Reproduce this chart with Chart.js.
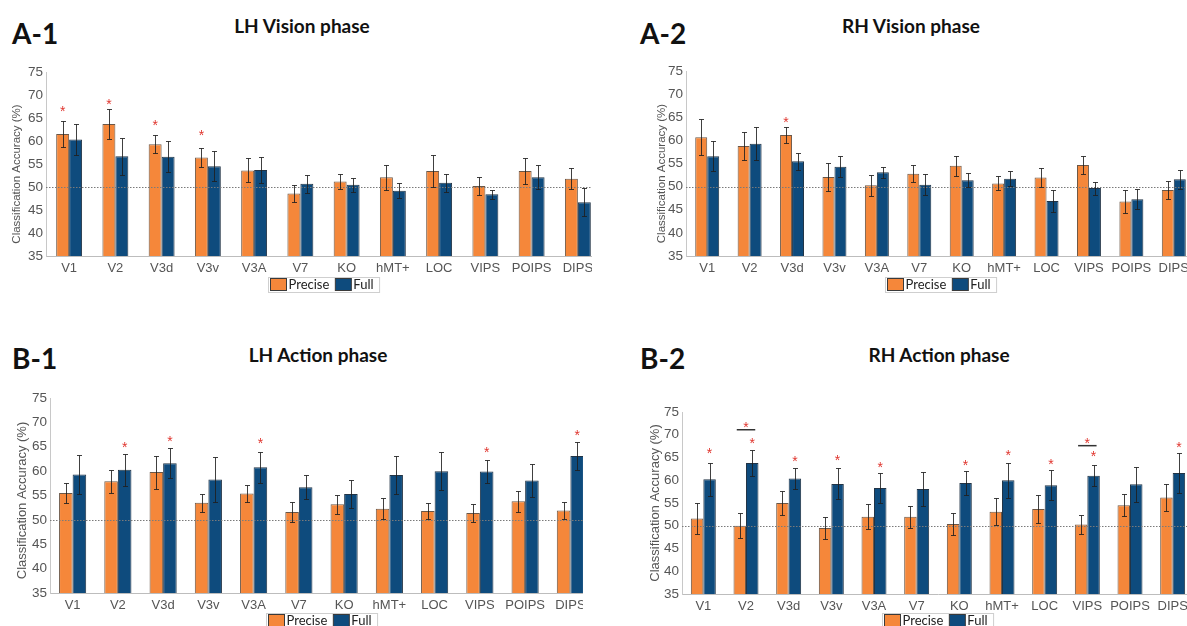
<!DOCTYPE html>
<html>
<head>
<meta charset="utf-8">
<script src="https://cdn.jsdelivr.net/npm/chart.js@4.4.1/dist/chart.umd.min.js"></script>
<style>
  html, body { margin: 0; padding: 0; background: #fff; }
  body { width: 1187px; height: 626px; overflow: hidden; position: relative; }
  .panel { position: absolute; overflow: hidden; }
  .panel canvas { position: absolute; left: 0; top: 0; }
  .tag { position: absolute; font-family: Lato, "Open Sans", sans-serif; font-weight: 700; font-size: 28px; line-height: 1; color: #111; }
  .ttl { position: absolute; font-family: Lato, "Open Sans", sans-serif; font-weight: 700; font-size: 19px; line-height: 1; color: #111; white-space: nowrap; transform: translateX(-50%); }
</style>
</head>
<body>
<div class="tag" style="left:12px;top:19px">A-1</div>
<div class="ttl" style="left:302px;top:16px">LH Vision phase</div>
<div class="tag" style="left:640px;top:19px">A-2</div>
<div class="ttl" style="left:911px;top:16px">RH Vision phase</div>
<div class="tag" style="left:12px;top:344px">B-1</div>
<div class="ttl" style="left:318px;top:345px">LH Action phase</div>
<div class="tag" style="left:640px;top:344px">B-2</div>
<div class="ttl" style="left:939px;top:345px">RH Action phase</div>

<div class="panel" id="wrapA1" style="left:0px;top:60px;width:592px;height:250px"><canvas id="chartA1" width="610" height="250"></canvas></div>
<div class="panel" id="wrapA2" style="left:600px;top:60px;width:587px;height:250px"><canvas id="chartA2" width="605" height="250"></canvas></div>
<div class="panel" id="wrapB1" style="left:0px;top:385px;width:583px;height:241px"><canvas id="chartB1" width="600" height="241"></canvas></div>
<div class="panel" id="wrapB2" style="left:600px;top:385px;width:587px;height:241px"><canvas id="chartB2" width="605" height="241"></canvas></div>

<script>
// Regions of interest along the x axis
const regions = ['V1', 'V2', 'V3d', 'V3v', 'V3A', 'V7', 'KO', 'hMT+', 'LOC', 'VIPS', 'POIPS', 'DIPS'];
const accuracyTicks = [35, 40, 45, 50, 55, 60, 65, 70, 75];
const chanceLevel = 50;
const seriesNames = ['Precise', 'Full'];
const seriesColors = ['#F5873A', '#0E4B7D'];
const yAxisTitle = 'Classification Accuracy (%)';

// LH, vision phase
const lhVisionPrecise    = [61.5, 63.7, 59.3, 56.4, 53.6, 48.6, 51.2, 52.1, 53.5, 50.2, 53.5, 51.8];
const lhVisionPreciseErr = [2.9, 3.3, 1.9, 2.1, 2.6, 1.9, 1.7, 2.7, 3.4, 1.9, 2.8, 2.3];
const lhVisionFull       = [60.3, 56.7, 56.6, 54.5, 53.7, 50.7, 50.5, 49.2, 50.9, 48.4, 52.1, 46.7];
const lhVisionFullErr    = [3.3, 4.0, 3.3, 3.3, 2.9, 2.0, 1.5, 1.6, 2.0, 1.0, 2.6, 3.0];
// significance markers: [region index, series index, height]
const lhVisionStars      = [[0, 0, 67.0], [1, 0, 68.5], [2, 0, 64.0], [3, 0, 61.8]];

// RH, vision phase
const rhVisionPrecise    = [60.7, 58.8, 61.2, 52.1, 50.3, 52.8, 54.5, 50.7, 52.0, 54.7, 46.8, 49.3];
const rhVisionPreciseErr = [3.9, 3.1, 1.8, 3.0, 2.3, 1.8, 2.2, 1.5, 2.1, 1.9, 2.5, 2.0];
const rhVisionFull       = [56.6, 59.3, 55.5, 54.3, 53.1, 50.4, 51.4, 51.7, 46.9, 49.7, 47.3, 51.6];
const rhVisionFullErr    = [3.3, 3.6, 1.8, 2.3, 1.2, 2.3, 1.5, 1.6, 2.4, 1.4, 2.1, 2.0];
const rhVisionStars      = [[2, 0, 64.6]];

// LH, action phase
const lhActionPrecise    = [55.5, 57.9, 59.8, 53.5, 55.4, 51.6, 53.2, 52.3, 51.8, 51.4, 53.8, 51.9];
const lhActionPreciseErr = [2.1, 2.3, 3.4, 1.9, 1.7, 2.1, 2.0, 2.2, 1.7, 1.9, 2.1, 1.8];
const lhActionFull       = [59.3, 60.3, 61.6, 58.3, 60.8, 56.7, 55.3, 59.2, 60.0, 59.9, 58.1, 63.1];
const lhActionFullErr    = [4.0, 3.3, 3.1, 4.7, 3.2, 2.5, 2.9, 3.9, 3.9, 2.3, 3.4, 2.9];
const lhActionStars      = [[1, 1, 65.5], [2, 1, 66.6], [4, 1, 66.3], [9, 1, 64.5], [11, 1, 67.9]];

// RH, action phase
const rhActionPrecise    = [51.6, 50.0, 55.0, 49.5, 52.0, 52.0, 50.4, 53.1, 53.7, 50.3, 54.5, 56.2];
const rhActionPreciseErr = [3.4, 2.7, 2.6, 2.5, 2.7, 2.4, 2.4, 2.9, 3.1, 2.1, 2.4, 2.9];
const rhActionFull       = [60.2, 63.8, 60.4, 59.2, 58.3, 58.1, 59.4, 60.0, 58.9, 61.0, 59.1, 61.6];
const rhActionFullErr    = [3.6, 2.9, 2.4, 3.4, 3.2, 3.8, 2.7, 3.8, 3.3, 2.3, 3.8, 4.3];
const rhActionStars      = [[0, 1, 66.5], [1, 1, 68.7], [2, 1, 64.8], [3, 1, 65.1], [4, 1, 63.5],
                            [6, 1, 64.0], [7, 1, 66.1], [8, 1, 64.1], [9, 1, 65.8], [11, 1, 67.9]];
// Precise-vs-Full comparisons: [region index, bracket height, marker height]
const rhActionBrackets   = [[1, 71.1, 72.3], [9, 67.6, 68.8]];

// Axis title, error bars, chance line, significance markers and the boxed legend
function makeExtras(cfg) {
  return {
    id: 'extras',
    afterDatasetsDraw(chart) {
      const { ctx, chartArea } = chart;
      const y = chart.scales.y;
      ctx.save();
      // chance level
      const yc = Math.round(y.getPixelForValue(chanceLevel)) + 0.5;
      ctx.strokeStyle = '#7a7a7a';
      ctx.lineWidth = 1;
      ctx.setLineDash([1.5, 1.5]);
      ctx.beginPath();
      ctx.moveTo(chartArea.left, yc);
      ctx.lineTo(chartArea.right, yc);
      ctx.stroke();
      ctx.setLineDash([]);
      // error bars
      ctx.strokeStyle = 'rgba(30,30,30,0.85)';
      ctx.lineWidth = 1;
      chart.data.datasets.forEach((ds, di) => {
        const meta = chart.getDatasetMeta(di);
        meta.data.forEach((bar, i) => {
          const v = ds.data[i], e = ds.err[i];
          const x = Math.round(bar.x) + 0.5;
          const t = Math.round(y.getPixelForValue(v + e)) + 0.5;
          const b = Math.round(y.getPixelForValue(v - e)) + 0.5;
          ctx.beginPath();
          ctx.moveTo(x, t); ctx.lineTo(x, b);
          ctx.moveTo(x - 2.5, t); ctx.lineTo(x + 2.5, t);
          ctx.moveTo(x - 2.5, b); ctx.lineTo(x + 2.5, b);
          ctx.stroke();
        });
      });
      // significance markers
      const star = (x, val) => {
        ctx.fillStyle = '#E0352E';
        ctx.font = '14px "Liberation Sans", Arial, sans-serif';
        ctx.textAlign = 'center';
        ctx.textBaseline = 'alphabetic';
        ctx.fillText('*', x, y.getPixelForValue(val) + 7.5);
      };
      (cfg.stars || []).forEach(([ci, si, val]) => {
        star(chart.getDatasetMeta(si).data[ci].x, val);
      });
      (cfg.brackets || []).forEach(([ci, lineVal, starVal]) => {
        const x0 = chart.getDatasetMeta(0).data[ci].x - 3;
        const x1 = chart.getDatasetMeta(1).data[ci].x + 3;
        const yl = y.getPixelForValue(lineVal);
        ctx.strokeStyle = '#333';
        ctx.lineWidth = 1.5;
        ctx.beginPath();
        ctx.moveTo(x0, yl); ctx.lineTo(x1, yl);
        ctx.stroke();
        star((x0 + x1) / 2, starVal);
      });
      ctx.restore();
    },
    afterDraw(chart) {
      const { ctx, chartArea } = chart;
      ctx.save();
      // rotated y-axis title
      ctx.save();
      ctx.translate(cfg.titleX, (chartArea.top + chartArea.bottom) / 2 + cfg.titleShift);
      ctx.rotate(-Math.PI / 2);
      ctx.fillStyle = '#555';
      ctx.font = cfg.titleSize + 'px "Liberation Sans", Arial, sans-serif';
      ctx.textAlign = 'center';
      ctx.textBaseline = 'middle';
      ctx.fillText(yAxisTitle, 0, 0);
      ctx.restore();
      // legend
      ctx.font = '13px Lato, "Open Sans", sans-serif';
      const sw = 16, sh = 12, gap = 2, between = 6, padL = 2, padR = 6, boxH = 15;
      const items = chart.data.datasets.map(d => ({ label: d.label, color: d.backgroundColor, w: ctx.measureText(d.label).width }));
      const total = padL + padR + items.reduce((a, it) => a + sw + gap + it.w, 0) + between * (items.length - 1);
      const cx = (chartArea.left + chartArea.right) / 2;
      const cy = chartArea.bottom + cfg.legendDy;
      let x = Math.round(cx - total / 2) + 0.5;
      const top = Math.round(cy - boxH / 2) + 0.5;
      ctx.fillStyle = '#fff';
      ctx.fillRect(x, top, total, boxH);
      ctx.strokeStyle = '#cfcfcf';
      ctx.lineWidth = 1;
      ctx.strokeRect(x, top, total, boxH);
      x += padL;
      items.forEach(it => {
        const st = Math.round(cy - sh / 2) + 0.5;
        ctx.fillStyle = it.color;
        ctx.fillRect(x, st, sw, sh);
        ctx.strokeStyle = '#3a3a3a';
        ctx.strokeRect(x, st, sw, sh);
        x += sw + gap;
        ctx.fillStyle = '#222';
        ctx.textAlign = 'left';
        ctx.textBaseline = 'middle';
        ctx.fillText(it.label, x, cy + 1);
        x += it.w + between;
      });
      ctx.restore();
    }
  };
}

function makePanel(canvasId, cfg) {
  const tickFont = { family: '"Liberation Sans", Arial, sans-serif', size: 13 };
  return new Chart(document.getElementById(canvasId), {
    type: 'bar',
    data: {
      labels: regions,
      datasets: [
        { label: seriesNames[0], data: cfg.precise, err: cfg.preciseErr, backgroundColor: seriesColors[0],
          borderColor: 'rgba(70,45,25,0.8)', borderWidth: 1, categoryPercentage: cfg.groupFrac, barPercentage: 1 },
        { label: seriesNames[1], data: cfg.full, err: cfg.fullErr, backgroundColor: seriesColors[1],
          borderColor: 'rgba(10,30,50,0.9)', borderWidth: 1, categoryPercentage: cfg.groupFrac, barPercentage: 1 }
      ]
    },
    options: {
      responsive: false,
      animation: false,
      devicePixelRatio: 1,
      layout: { padding: { top: cfg.padTop, right: cfg.padRight, bottom: cfg.padBottom, left: 0 } },
      plugins: { legend: { display: false }, tooltip: { enabled: false } },
      scales: {
        x: {
          grid: { display: false, drawTicks: false },
          border: { color: '#bdbdbd' },
          ticks: { color: '#555', font: tickFont, padding: 5, maxRotation: 0, autoSkip: false },
          afterFit: s => { s.height = 20; }
        },
        y: {
          min: accuracyTicks[0],
          max: accuracyTicks[accuracyTicks.length - 1],
          grid: { display: false, drawTicks: false },
          border: { color: '#c8c8c8' },
          ticks: { color: '#555', font: { family: tickFont.family, size: 13.5 }, padding: 3 },
          afterBuildTicks: s => { s.ticks = accuracyTicks.map(v => ({ value: v })); },
          afterFit: s => { s.width = cfg.axisWidth; }
        }
      }
    },
    plugins: [makeExtras(cfg)]
  });
}

makePanel('chartA1', {
  precise: lhVisionPrecise, preciseErr: lhVisionPreciseErr, full: lhVisionFull, fullErr: lhVisionFullErr,
  stars: lhVisionStars, groupFrac: 0.56,
  axisWidth: 46, padTop: 12, padRight: 9, padBottom: 34, legendDy: 28,
  titleX: 17, titleShift: 10, titleSize: 11.5
});
makePanel('chartA2', {
  precise: rhVisionPrecise, preciseErr: rhVisionPreciseErr, full: rhVisionFull, fullErr: rhVisionFullErr,
  stars: rhVisionStars, groupFrac: 0.565,
  axisWidth: 86, padTop: 11, padRight: 10, padBottom: 34, legendDy: 28,
  titleX: 62, titleShift: 10, titleSize: 11.5
});
makePanel('chartB1', {
  precise: lhActionPrecise, preciseErr: lhActionPreciseErr, full: lhActionFull, fullErr: lhActionFullErr,
  stars: lhActionStars, groupFrac: 0.6,
  axisWidth: 50, padTop: 13, padRight: 7, padBottom: 13, legendDy: 27,
  titleX: 22, titleShift: 5, titleSize: 13
});
makePanel('chartB2', {
  precise: rhActionPrecise, preciseErr: rhActionPreciseErr, full: rhActionFull, fullErr: rhActionFullErr,
  stars: rhActionStars, brackets: rhActionBrackets, groupFrac: 0.585,
  axisWidth: 82, padTop: 27, padRight: 11, padBottom: 12, legendDy: 26,
  titleX: 55, titleShift: 0, titleSize: 13
});
</script>
</body>
</html>
